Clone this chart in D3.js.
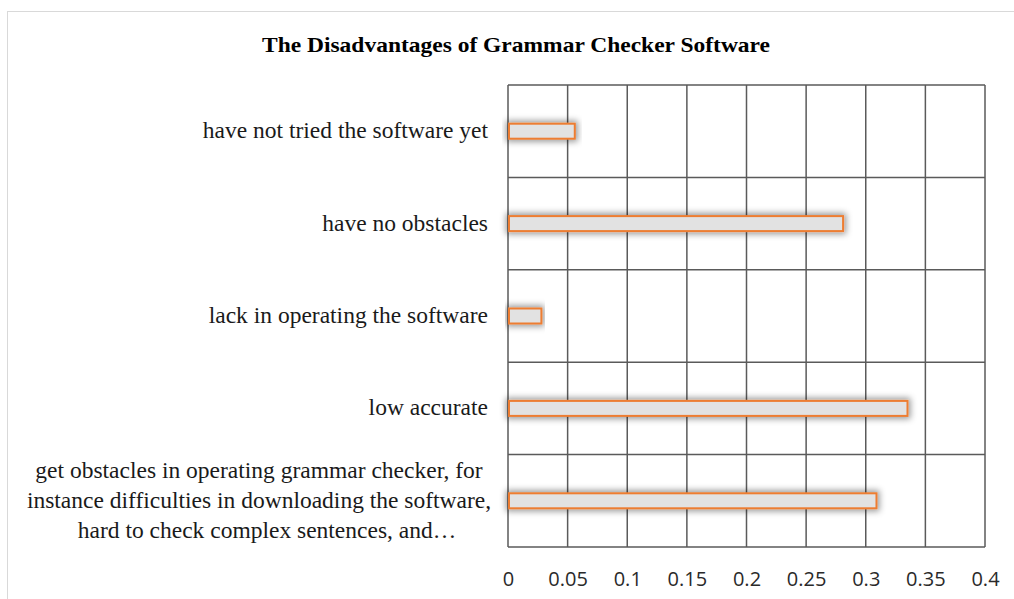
<!DOCTYPE html>
<html>
<head>
<meta charset="utf-8">
<script src="https://cdn.jsdelivr.net/npm/d3@7"></script>
<style>
  body { margin: 0; background: #fff; }
  svg { display: block; }
</style>
</head>
<body>
<div id="chart"></div>
<script>
///// Data

let categories = [
    ["have not tried the software yet"],
    ["have no obstacles"],
    ["lack in operating the software"],
    ["low accurate"],
    ["get obstacles in operating grammar checker, for",
     "instance difficulties in downloading the software,",
     "hard to check complex sentences, and\u2026"]
];
let values = [0.056, 0.281, 0.028, 0.335, 0.309];
let tickValues = [0, 0.05, 0.1, 0.15, 0.2, 0.25, 0.3, 0.35, 0.4];
let tickLabels = ["0", "0.05", "0.1", "0.15", "0.2", "0.25", "0.3", "0.35", "0.4"];

///// Layout

let W = 1014, H = 599;
let plot = { left: 508, right: 985, top: 85, bottom: 547 };

let x = d3.scaleLinear().domain([0, 0.4]).range([plot.left, plot.right]);
let y = d3.scaleBand().domain(d3.range(categories.length)).range([plot.top, plot.bottom]);

let svg = d3.select("#chart").append("svg")
    .attr("width", W)
    .attr("height", H);

// soft shadow behind the bars
let defs = svg.append("defs");
let f = defs.append("filter").attr("id", "glow")
    .attr("x", "-10%").attr("y", "-100%").attr("width", "120%").attr("height", "300%");
f.append("feMorphology").attr("in", "SourceAlpha").attr("operator", "dilate").attr("radius", 2).attr("result", "d");
f.append("feGaussianBlur").attr("in", "d").attr("stdDeviation", 3).attr("result", "b");
f.append("feFlood").attr("flood-color", "#000").attr("flood-opacity", 0.4);
f.append("feComposite").attr("in2", "b").attr("operator", "in").attr("result", "s");
let m = f.append("feMerge");
m.append("feMergeNode").attr("in", "s");
m.append("feMergeNode").attr("in", "SourceGraphic");

// chart frame
svg.append("rect")
    .attr("x", 7.5).attr("y", 11.5)
    .attr("width", W + 10).attr("height", H + 10)
    .attr("fill", "none")
    .attr("stroke", "#d9d9d9")
    .attr("stroke-width", 1);

// title
svg.append("text")
    .attr("x", 516).attr("y", 52)
    .attr("text-anchor", "middle")
    .style("font-family", "'Liberation Serif', 'Times New Roman', serif")
    .style("font-weight", "bold")
    .style("font-size", "22px")
    .attr("textLength", 508)
    .attr("lengthAdjust", "spacingAndGlyphs")
    .text("The Disadvantages of Grammar Checker Software");

// vertical gridlines
svg.append("g")
    .selectAll("line")
    .data(tickValues)
    .join("line")
    .attr("x1", d => x(d)).attr("x2", d => x(d))
    .attr("y1", plot.top).attr("y2", plot.bottom)
    .attr("stroke", "#5a5a5a")
    .attr("stroke-width", 1.5);

// horizontal category borders
svg.append("g")
    .selectAll("line")
    .data(d3.range(categories.length + 1))
    .join("line")
    .attr("x1", plot.left).attr("x2", plot.right)
    .attr("y1", d => plot.top + d * y.step())
    .attr("y2", d => plot.top + d * y.step())
    .attr("stroke", "#5a5a5a")
    .attr("stroke-width", 1.5);

// bars
let barH = 15;
svg.append("g")
    .selectAll("rect")
    .data(values)
    .join("rect")
    .attr("x", x(0) + 1)
    .attr("y", (d, i) => y(i) + y.bandwidth() / 2 - barH / 2)
    .attr("width", d => x(d) - x(0) - 1)
    .attr("height", barH)
    .attr("fill", "#e2e2e2")
    .attr("stroke", "#ed7d31")
    .attr("stroke-width", 2)
    .attr("filter", "url(#glow)");

// category labels
let labelFont = "'Liberation Serif', 'Times New Roman', serif";
let lab = svg.append("g")
    .selectAll("text")
    .data(categories)
    .join("text")
    .style("font-family", labelFont)
    .style("font-size", "23.5px")
    .attr("fill", "#1a1a1a")
    .attr("text-anchor", d => d.length > 1 ? "middle" : "end")
    .attr("transform", (d, i) => {
        let cy = y(i) + y.bandwidth() / 2;
        let tx = d.length > 1 ? 259 : 488;
        return "translate(" + tx + "," + (cy - (d.length - 1) * 15 + 7) + ")";
    });
lab.selectAll("tspan")
    .data(d => d)
    .join("tspan")
    .attr("x", (d, i) => i === 2 ? 8 : 0)
    .attr("dy", (d, i) => i === 0 ? 0 : 30)
    .text(d => d);

// x axis labels
let axis = svg.append("g")
    .attr("transform", "translate(0," + (plot.bottom + 39) + ")")
    .call(d3.axisBottom(x).tickValues(tickValues).tickFormat((d, i) => tickLabels[i]).tickSize(0).tickPadding(0));
axis.select(".domain").remove();
axis.selectAll("text")
    .style("font-family", "'Open Sans', 'Liberation Sans', sans-serif")
    .style("font-size", "20px")
    .attr("fill", "#2a2a2a")
    .attr("dy", "0");
</script>
</body>
</html>
